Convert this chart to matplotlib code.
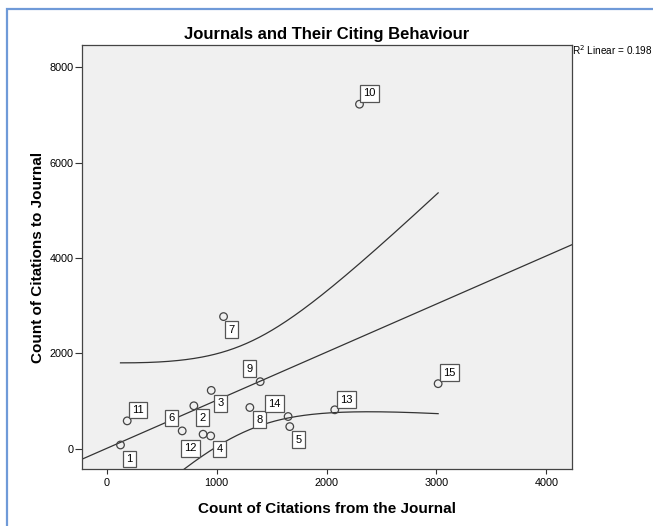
import numpy as np
import matplotlib.pyplot as plt
from matplotlib.patches import Rectangle

plt.rcParams['font.family'] = ['Liberation Sans', 'DejaVu Sans']

# journals: citations from / to
case_ids = [1, 2, 3, 4, 5, 6, 7, 8, 9, 10, 11, 12, 13, 14, 15]
cites_from = [127, 794, 952, 947, 1666, 688, 1064, 1303, 1397, 2300, 188, 878, 2075, 1651, 3015]
cites_to = [84, 905, 1227, 274, 469, 379, 2773, 869, 1410, 7221, 589, 309, 821, 680, 1368]
# where each case label sits relative to its point (pixels)
label_offsets = [(9, -14), (9, -12), (9, -13), (9, -13), (9, -13), (-11, 13), (8, -13),
                 (10, -12), (-11, 13), (10, 11), (11, 11), (-13, -14), (12, 10), (-14, 13), (11, 11)]

x = np.array(cites_from, dtype=float)
y = np.array(cites_to, dtype=float)

# linear fit + 95% CI of the mean
n = len(x)
b, a = np.polyfit(x, y, 1)
resid = y - (a + b * x)
s = np.sqrt((resid ** 2).sum() / (n - 2))
sxx = ((x - x.mean()) ** 2).sum()
t = 2.160  # t(0.975, 13)
r2 = 1 - (resid ** 2).sum() / ((y - y.mean()) ** 2).sum()

fig = plt.figure(figsize=(6.53, 5.26), dpi=100)
ax = fig.add_axes([82 / 653, 1 - 469 / 526, 490 / 653, 424 / 526])
ax.set_facecolor('#f0f0f0')

# blue frame round the chart
fig.patches.append(Rectangle((7 / 653, -0.05), 1.1, 1 - 9 / 526 + 0.05, transform=fig.transFigure,
                             fill=False, edgecolor='#6f9ad8', linewidth=1.6, clip_on=False))

ax.set_xlim(-223, 4232)
ax.set_ylim(-419, 8461)

xx = np.linspace(-223, 4232, 200)
ax.plot(xx, a + b * xx, color='#333333', lw=0.9)
xc = np.linspace(x.min(), x.max(), 200)
hw = t * s * np.sqrt(1 / n + (xc - x.mean()) ** 2 / sxx)
ax.plot(xc, a + b * xc + hw, color='#333333', lw=0.9)
ax.plot(xc, a + b * xc - hw, color='#333333', lw=0.9)

ax.scatter(x, y, s=30, facecolors='none', edgecolors='#444444', linewidths=0.9, zorder=3)
for cid, xi, yi, off in zip(case_ids, x, y, label_offsets):
    ax.annotate(str(cid), (xi, yi), xytext=off, textcoords='offset pixels',
                ha='center', va='center', fontsize=8, color='black',
                bbox=dict(boxstyle='square,pad=0.3', fc='white', ec='#555555', lw=0.9))

ax.set_xticks([0, 1000, 2000, 3000, 4000])
ax.set_yticks([0, 2000, 4000, 6000, 8000])
ax.tick_params(labelsize=7.8, color='#333333')
ax.tick_params(axis='y', length=5, pad=1)
ax.tick_params(axis='x', length=3.5, pad=3)
for sp in ax.spines.values():
    sp.set_color('#444444')
    sp.set_linewidth(0.9)

ax.set_title('Journals and Their Citing Behaviour', fontsize=12, fontweight='bold', pad=4)
ax.set_xlabel('Count of Citations from the Journal', fontsize=11, fontweight='bold', labelpad=10)
ax.set_ylabel('Count of Citations to Journal', fontsize=11, fontweight='bold')
ax.yaxis.set_label_coords(-0.0756, 0.5)
fig.text(572 / 653, 1 - 50 / 526, 'R$^2$ Linear = %.3f' % r2, fontsize=7.2, ha='left', va='center')

fig.savefig('out.png', dpi=100, facecolor='white')
